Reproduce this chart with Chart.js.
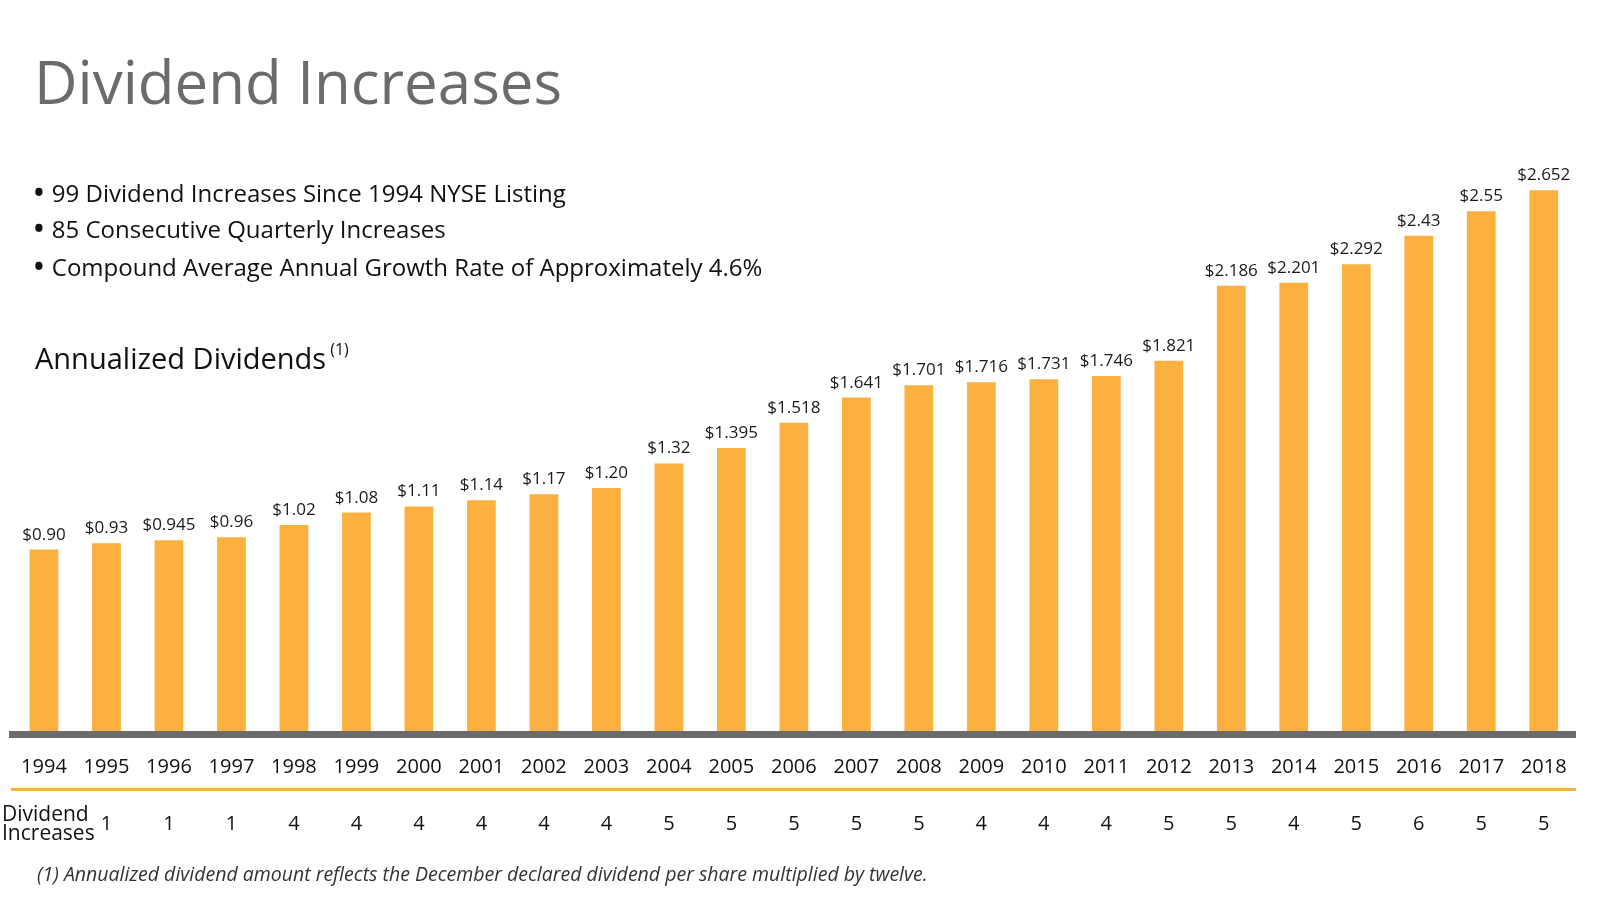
<!DOCTYPE html>
<html>
<head>
<meta charset="utf-8">
<script src="https://cdn.jsdelivr.net/npm/chart.js@4.4.1/dist/chart.umd.min.js"></script>
<style>
  body { margin: 0; background: #fff; }
  #wrap { position: relative; width: 1600px; height: 916px; font-family: 'Open Sans', sans-serif; overflow: hidden; }
  #wrap canvas { position: absolute; left: 0; top: 0; }
  .txt { position: absolute; white-space: nowrap; color: #111; line-height: 1; }
  #title { left: 34px; top: 51px; font-size: 60px; color: #6b6b6b; }
  .bullet { left: 34px; font-size: 24px; }
  .bullet b { font-size: 26px; margin-right: 8px; }
  #sub { left: 35px; top: 341px; font-size: 29px; }
  #sub sup { font-size: 16px; vertical-align: 14px; margin-left: 4px; }
  #incLabel { left: 2px; top: 804px; font-size: 21px; line-height: 18.5px; }
  #note { left: 37px; top: 864px; font-size: 19.5px; font-style: italic; color: #333; }
</style>
</head>
<body>
<div id="wrap">
  <canvas id="myChart" width="1600" height="916"></canvas>
  <div class="txt" id="title">Dividend Increases</div>
  <div class="txt bullet" style="top:179px"><b>•</b>99 Dividend Increases Since 1994 NYSE Listing</div>
  <div class="txt bullet" style="top:215px"><b>•</b>85 Consecutive Quarterly Increases</div>
  <div class="txt bullet" style="top:253px"><b>•</b>Compound Average Annual Growth Rate of Approximately 4.6%</div>
  <div class="txt" id="sub">Annualized Dividends<sup>(1)</sup></div>
  <div class="txt" id="incLabel">Dividend<br>Increases</div>
  <div class="txt" id="note">(1) Annualized dividend amount reflects the December declared dividend per share multiplied by twelve.</div>
</div>
<script>
const years = ['1994', '1995', '1996', '1997', '1998', '1999', '2000', '2001', '2002', '2003', '2004', '2005',
               '2006', '2007', '2008', '2009', '2010', '2011', '2012', '2013', '2014', '2015', '2016', '2017', '2018'];
const dividends = [0.90, 0.93, 0.945, 0.96, 1.02, 1.08, 1.11, 1.14, 1.17, 1.20, 1.32, 1.395,
                   1.518, 1.641, 1.701, 1.716, 1.731, 1.746, 1.821, 2.186, 2.201, 2.292, 2.43, 2.55, 2.652];
const increases = [null, 1, 1, 1, 4, 4, 4, 4, 4, 4, 5, 5,
                   5, 5, 5, 4, 4, 4, 5, 5, 4, 5, 6, 5, 5];   // no increase in the listing year

const barColor = '#fbb040';
const tickFont = {family: "'Open Sans', sans-serif", size: 20};

// "$0.90" keeps two decimals, "$0.945" keeps three
const dollar = (v) => '$' + v.toFixed(3).replace(/0$/, '');

const valueLabels = {
    id: 'valueLabels',
    afterDatasetsDraw(chart) {
        const ctx = chart.ctx;
        const meta = chart.getDatasetMeta(0);
        ctx.save();
        ctx.fillStyle = '#1a1a1a';
        ctx.font = "17px 'Open Sans', sans-serif";
        ctx.textAlign = 'center';
        ctx.textBaseline = 'alphabetic';
        meta.data.forEach((bar, i) => {
            ctx.fillText(dollar(dividends[i]), bar.x, bar.y - 10);
        });
        ctx.restore();
    }
};

const ctx = document.getElementById('myChart').getContext('2d');
const myChart = new Chart(ctx, {
    type: 'bar',
    data: {
        labels: years,
        datasets: [{
            data: dividends,
            backgroundColor: barColor,
            barPercentage: 0.46,
            categoryPercentage: 1
        }]
    },
    options: {
        responsive: false,
        animation: false,
        devicePixelRatio: 1,
        layout: {
            padding: {left: 5, right: 25, top: 119, bottom: 79}
        },
        scales: {
            x: {
                position: 'bottom',
                weight: 0,
                grid: {display: false, drawTicks: false},
                border: {display: true, color: '#6b6b6b', width: 7, z: 1},
                ticks: {color: '#111', font: tickFont, padding: 21, maxRotation: 0, autoSkip: false},
                afterFit: (scale) => { scale.height = 55; }   //orange rule sits 55px under the axis
            },
            x2: {
                type: 'category',
                labels: years,
                position: 'bottom',
                weight: 1,
                offset: true,
                grid: {display: false, drawTicks: false},
                border: {display: true, color: '#f7b04a', width: 3},
                ticks: {
                    color: '#111',
                    font: tickFont,
                    padding: 23,
                    maxRotation: 0,
                    autoSkip: false,
                    callback: (value, index) => increases[index] === null ? '' : increases[index]
                },
                afterFit: (scale) => { scale.height = 48; }
            },
            y: {
                display: false,
                min: 0,
                max: 3
            }
        },
        plugins: {
            legend: {display: false},
            tooltip: {enabled: false}
        }
    },
    plugins: [valueLabels]
});
</script>
</body>
</html>
